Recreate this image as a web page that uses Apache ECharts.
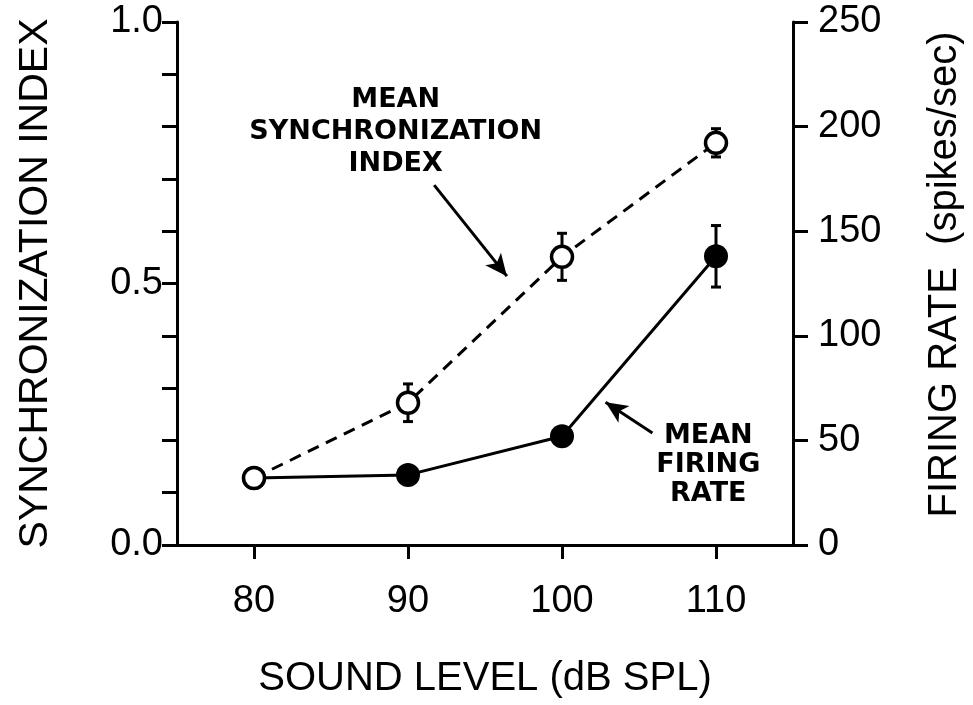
<!DOCTYPE html>
<html>
<head>
<meta charset="utf-8">
<script src="https://cdn.jsdelivr.net/npm/echarts@6/dist/echarts.min.js"></script>
<style>
html,body{margin:0;padding:0;background:#fff;}
#chart{width:973px;height:705px;}
</style>
</head>
<body>
<div id="chart"></div>
<script>
// ---- data ----
var soundLevels = [80, 90, 100, 110];
var syncIndex = [0.128, 0.272, 0.551, 0.769];
var syncErr = [0, 0.036, 0.045, 0.027];
var firingRate = [32, 33.5, 52, 138];
var firingErr = [0, 0, 0, 14.7];
var xTickLabels = ['80', '90', '100', '110'];
var leftTickLabels = ['0.0', '0.5', '1.0'];
var rightTickLabels = ['0', '50', '100', '150', '200', '250'];
var annotationTexts = ['MEAN\nSYNCHRONIZATION\nINDEX', 'MEAN\nFIRING\nRATE'];
var annotationAnchors = [[89.2, 0.789], [109.5, 0.153]];
var arrowLines = [[[91.7, 0.688], [96.42, 0.514]], [[105.87, 0.214], [102.83, 0.273]]];

var FONT = 'Liberation Sans, Arial, Helvetica, sans-serif';
var ANN_FONT = 'DejaVu Sans, sans-serif';

var chart = echarts.init(document.getElementById('chart'), null, {renderer: 'canvas'});

function errBarSeries(name, values, errs, yIndex, z) {
  return {
    name: name,
    type: 'custom',
    xAxisIndex: 0,
    yAxisIndex: yIndex,
    z: z,
    silent: true,
    data: soundLevels.map(function (x, i) { return [x, values[i], errs[i]]; }),
    renderItem: function (params, api) {
      var x = api.value(0), y = api.value(1), e = api.value(2);
      if (!e) return null;
      var top = api.coord([x, y + e]);
      var bot = api.coord([x, y - e]);
      var cap = 5;
      var style = {stroke: '#000', lineWidth: 3};
      return {
        type: 'group',
        children: [
          {type: 'line', shape: {x1: top[0], y1: top[1], x2: bot[0], y2: bot[1]}, style: style},
          {type: 'line', shape: {x1: top[0] - cap, y1: top[1], x2: top[0] + cap, y2: top[1]}, style: style},
          {type: 'line', shape: {x1: bot[0] - cap, y1: bot[1], x2: bot[0] + cap, y2: bot[1]}, style: style}
        ]
      };
    }
  };
}

var option = {
  animation: false,
  backgroundColor: '#fff',
  grid: {left: 177, right: 180, top: 22, bottom: 160, containLabel: false},
  xAxis: {
    type: 'value',
    min: 75, max: 115, interval: 5,
    name: 'SOUND LEVEL (dB SPL)',
    nameLocation: 'middle',
    nameGap: 114,
    nameTextStyle: {fontFamily: FONT, fontSize: 40, color: '#000'},
    axisLine: {show: true, onZero: false, lineStyle: {color: '#000', width: 3}},
    axisTick: {show: true, length: 14, lineStyle: {color: '#000', width: 3},
      customValues: soundLevels},
    axisLabel: {show: true, margin: 38, fontFamily: FONT, fontSize: 38, color: '#000',
      customValues: soundLevels,
      formatter: function (v) { var i = soundLevels.indexOf(v); return i >= 0 ? xTickLabels[i] : ''; }},
    splitLine: {show: false}
  },
  yAxis: [
    {
      type: 'value',
      position: 'left',
      min: 0, max: 1, interval: 0.1,
      name: 'SYNCHRONIZATION INDEX',
      nameLocation: 'middle',
      nameRotate: 90,
      nameGap: 121,
      nameTextStyle: {fontFamily: FONT, fontSize: 41, color: '#000'},
      axisLine: {show: true, onZero: false, lineStyle: {color: '#000', width: 3}},
      axisTick: {show: true, length: 15, lineStyle: {color: '#000', width: 3}},
      axisLabel: {show: true, margin: 14, fontFamily: FONT, fontSize: 38, color: '#000',
        formatter: function (v) {
          var r = Math.round(v * 10) / 10;
          if (Math.abs(r - 0) < 1e-9) return leftTickLabels[0];
          if (Math.abs(r - 0.5) < 1e-9) return leftTickLabels[1];
          if (Math.abs(r - 1) < 1e-9) return leftTickLabels[2];
          return '';
        }},
      splitLine: {show: false}
    },
    {
      type: 'value',
      position: 'right',
      min: 0, max: 250, interval: 50,
      name: 'FIRING RATE  (spikes/sec)',
      nameLocation: 'middle',
      nameRotate: 90,
      nameGap: 132,
      nameTextStyle: {fontFamily: FONT, fontSize: 40, color: '#000', padding: [0, 0, 0, 18]},
      axisLine: {show: true, onZero: false, lineStyle: {color: '#000', width: 3}},
      axisTick: {show: true, length: 15, lineStyle: {color: '#000', width: 3}},
      axisLabel: {show: true, margin: 25, fontFamily: FONT, fontSize: 38, color: '#000',
        formatter: function (v) { return rightTickLabels[Math.round(v / 50)]; }},
      splitLine: {show: false}
    }
  ],
  series: [
    errBarSeries('FR err', firingRate, firingErr, 1, 2),
    {
      name: 'Mean firing rate',
      type: 'line',
      xAxisIndex: 0, yAxisIndex: 1,
      z: 3,
      data: soundLevels.map(function (x, i) { return [x, firingRate[i]]; }),
      symbol: 'circle',
      symbolSize: 24,
      itemStyle: {color: '#000', borderWidth: 0},
      lineStyle: {color: '#000', width: 3, type: 'solid'}
    },
    errBarSeries('SI err', syncIndex, syncErr, 0, 4),
    {
      name: 'Mean synchronization index',
      type: 'line',
      xAxisIndex: 0, yAxisIndex: 0,
      z: 5,
      data: soundLevels.map(function (x, i) { return [x, syncIndex[i]]; }),
      symbol: 'circle',
      symbolSize: 21,
      itemStyle: {color: '#fff', borderColor: '#000', borderWidth: 3.5},
      lineStyle: {color: '#000', width: 3, type: [12, 8]},
      markLine: {
        silent: true,
        symbol: ['none', 'arrow'],
        symbolSize: [15, 22],
        label: {show: false},
        lineStyle: {color: '#000', width: 3, type: 'solid', opacity: 1},
        data: arrowLines.map(function (l) { return [{coord: l[0]}, {coord: l[1]}]; })
      }
    },
    {
      name: 'annotations',
      type: 'scatter',
      xAxisIndex: 0, yAxisIndex: 0,
      z: 6,
      silent: true,
      symbolSize: 0,
      itemStyle: {opacity: 1, color: '#000'},
      data: annotationAnchors.map(function (a, i) {
        return {value: [a[0], a[1], annotationTexts[i]],
          label: {lineHeight: i === 0 ? 32 : 29}};
      }),
      label: {
        show: true,
        position: 'inside',
        align: 'center',
        verticalAlign: 'middle',
        fontFamily: ANN_FONT,
        fontWeight: 'bold',
        fontSize: 27,
        color: '#000',
        opacity: 1,
        formatter: function (p) { return p.value[2]; }
      }
    }
  ]
};
chart.setOption(option);
</script>
</body>
</html>
